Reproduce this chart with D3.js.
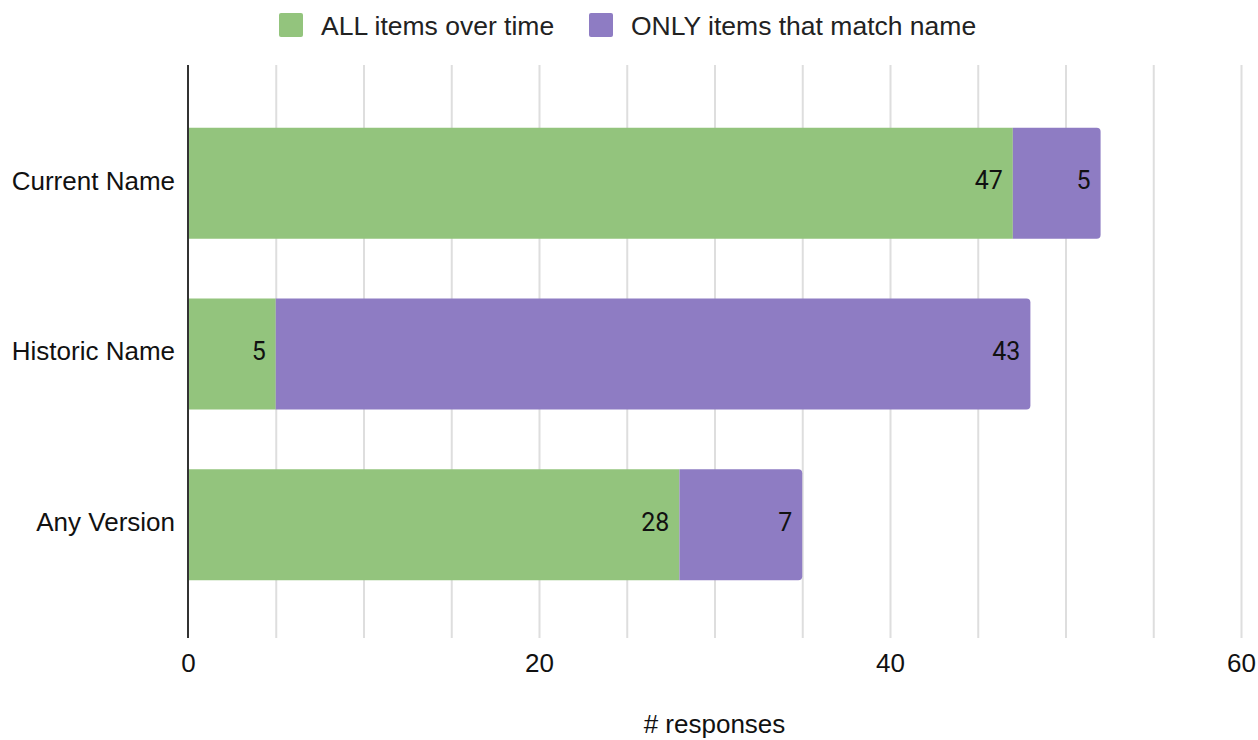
<!DOCTYPE html>
<html>
<head>
<meta charset="utf-8">
<script src="https://cdn.jsdelivr.net/npm/d3@7"></script>
<style>
  html, body { margin: 0; padding: 0; background: #fff; }
  svg { display: block; }
</style>
</head>
<body>
<svg id="chart" width="1258" height="740"></svg>
<script>
// Response counts per naming option
const categories = ["Current Name", "Historic Name", "Any Version"];
const allItems = [47, 5, 28];
const onlyMatching = [5, 43, 7];
const seriesNames = ["ALL items over time", "ONLY items that match name"];
const seriesColors = ["#93c47d", "#8e7cc3"];
const xTicks = [0, 20, 40, 60];
const gridValues = d3.range(0, 61, 5);
const xTitle = "# responses";

const svg = d3.select("#chart");
const plot = { left: 188, right: 1241, top: 65, bottom: 638 };

const x = d3.scaleLinear().domain([0, 60]).range([plot.left, plot.right]);
const y = d3.scaleBand().domain(categories).range([98, 610])
  .paddingInner(0.35).paddingOuter(0.175);

const labelFont = "'Liberation Sans', Arial, Helvetica, sans-serif";
const valueFont = "Roboto, 'Liberation Sans', Arial, sans-serif";
const labelSize = 26;

// vertical gridlines
svg.append("g").selectAll("line").data(gridValues.filter(v => v > 0)).join("line")
  .attr("x1", d => x(d) + 0.5).attr("x2", d => x(d) + 0.5)
  .attr("y1", plot.top).attr("y2", plot.bottom)
  .attr("stroke", "#dedede").attr("stroke-width", 2);

// stacked data
const rows = categories.map((c, i) => ({ cat: c, vals: [allItems[i], onlyMatching[i]] }));

function segPath(x0, x1, y0, h, r) {
  // rectangle with rounded right-hand corners
  return `M${x0},${y0}H${x1 - r}Q${x1},${y0} ${x1},${y0 + r}V${y0 + h - r}Q${x1},${y0 + h} ${x1 - r},${y0 + h}H${x0}Z`;
}

const bars = svg.append("g");
rows.forEach(row => {
  let acc = 0;
  row.vals.forEach((v, si) => {
    const x0 = x(acc), x1 = x(acc + v);
    const last = si === row.vals.length - 1;
    bars.append("path")
      .attr("d", segPath(x0, x1, y(row.cat), y.bandwidth(), last ? 4 : 0))
      .attr("fill", seriesColors[si]);
    bars.append("text")
      .attr("x", x1 - 10)
      .attr("y", y(row.cat) + y.bandwidth() / 2 - 3)
      .attr("dy", "0.36em")
      .attr("text-anchor", "end")
      .attr("font-family", valueFont)
      .attr("font-size", 25)
      .attr("fill", "#111")
      .text(v);
    acc += v;
  });
});

// baseline axis
svg.append("line")
  .attr("x1", plot.left).attr("x2", plot.left)
  .attr("y1", plot.top).attr("y2", plot.bottom)
  .attr("stroke", "#333").attr("stroke-width", 2);

// category labels
svg.append("g").selectAll("text").data(categories).join("text")
  .attr("x", 175)
  .attr("y", d => y(d) + y.bandwidth() / 2 - 3)
  .attr("dy", "0.36em")
  .attr("text-anchor", "end")
  .attr("font-family", labelFont)
  .attr("font-size", labelSize)
  .attr("fill", "#111")
  .text(d => d);

// x tick labels
const xAxis = d3.axisBottom(x).tickValues(xTicks).tickSize(0).tickPadding(0);
const gx = svg.append("g").attr("transform", `translate(0,${654})`).call(xAxis);
gx.select(".domain").remove();
gx.selectAll("text")
  .attr("font-family", labelFont)
  .attr("font-size", labelSize)
  .attr("fill", "#111");

// x axis title
svg.append("text")
  .attr("x", (plot.left + plot.right) / 2)
  .attr("y", 733)
  .attr("text-anchor", "middle")
  .attr("font-family", labelFont)
  .attr("font-size", labelSize)
  .attr("fill", "#111")
  .text(xTitle);

// legend
const legendX = [279, 589];
const legend = svg.append("g");
seriesNames.forEach((name, i) => {
  legend.append("rect")
    .attr("x", legendX[i]).attr("y", 13)
    .attr("width", 24).attr("height", 24).attr("rx", 2)
    .attr("fill", seriesColors[i]);
  legend.append("text")
    .attr("x", legendX[i] + 42).attr("y", 25)
    .attr("dy", "0.36em")
    .attr("font-family", labelFont)
    .attr("font-size", 26.5)
    .attr("fill", "#222")
    .text(name);
});
</script>
</body>
</html>
